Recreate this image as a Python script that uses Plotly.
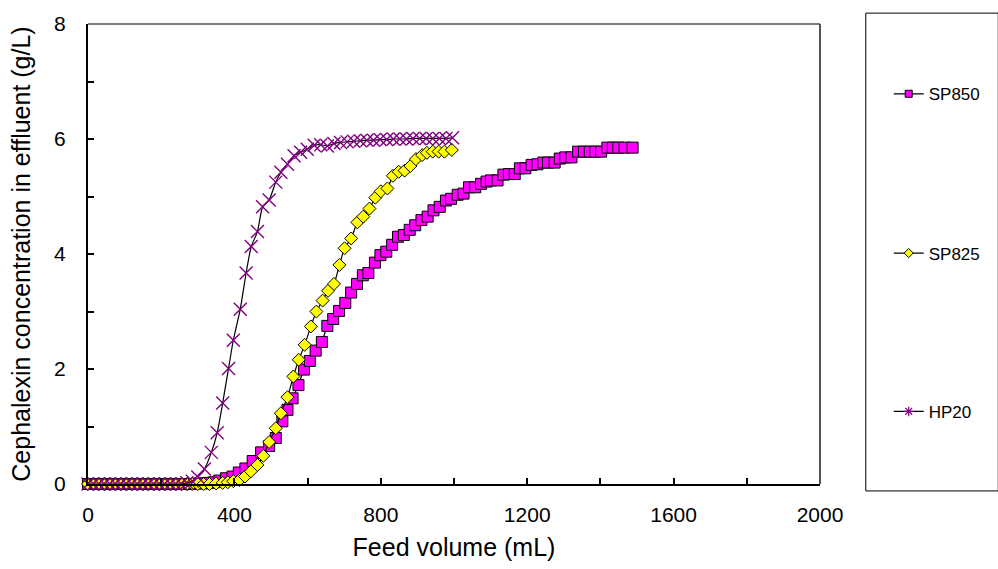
import plotly.graph_objects as go

# ---------------- data ----------------
sp850_x = [0, 15, 30, 45, 60, 75, 90, 105, 120, 135, 150, 165, 180, 195, 210, 225,
           240, 255, 270, 285, 300, 315, 330, 345, 359, 377, 395, 412, 430, 450, 473,
           495, 513, 531, 545, 559, 575, 590, 606, 622, 639, 654, 670, 686, 703, 719,
           735, 751, 766, 784, 799, 815, 831, 847, 863, 879, 894, 911, 928, 944, 961,
           978, 992, 1010, 1026, 1041, 1058, 1074, 1089, 1101, 1119, 1135, 1150, 1166,
           1180, 1195, 1212, 1228, 1244, 1257, 1275, 1289, 1304, 1321, 1339, 1355,
           1371, 1386, 1402, 1419, 1434, 1449, 1466, 1488]
sp850_y = [0, 0, 0, 0, 0, 0, 0, 0, 0, 0, 0, 0, 0, 0, 0, 0,
           0, 0, 0, 0, 0.01, 0.01, 0.02, 0.03, 0.06, 0.10, 0.13, 0.20, 0.27, 0.40, 0.55,
           0.66, 0.80, 1.09, 1.29, 1.49, 1.72, 1.99, 2.14, 2.32, 2.47, 2.75, 2.87, 3.01, 3.15, 3.33,
           3.48, 3.63, 3.67, 3.85, 3.98, 4.04, 4.16, 4.30, 4.33, 4.42, 4.50, 4.59, 4.65, 4.76, 4.82,
           4.93, 4.96, 5.03, 5.05, 5.16, 5.16, 5.22, 5.26, 5.28, 5.28, 5.38, 5.39, 5.39,
           5.49, 5.49, 5.55, 5.56, 5.59, 5.59, 5.59, 5.66, 5.68, 5.68, 5.78, 5.78,
           5.78, 5.78, 5.78, 5.85, 5.85, 5.85, 5.85, 5.85]

sp825_x = [0, 15, 30, 45, 60, 75, 90, 105, 120, 135, 150, 165, 180, 195, 210, 225,
           240, 255, 270, 285, 300, 316, 332, 350, 368, 382, 397, 414, 429, 445, 463,
           479, 495, 513, 527, 545, 561, 576, 592, 609, 624, 641, 656, 672, 687, 701,
           719, 736, 752, 769, 785, 800, 818, 833, 849, 865, 881, 896, 913, 926, 942,
           958, 974, 994]
sp825_y = [0, 0, 0, 0, 0, 0, 0, 0, 0, 0, 0, 0, 0, 0, 0, 0,
           0, 0, 0, 0, 0, 0, 0, 0.01, 0.02, 0.03, 0.05, 0.07, 0.13, 0.22, 0.33,
           0.49, 0.73, 0.97, 1.23, 1.51, 1.87, 2.16, 2.42, 2.74, 3.00, 3.19, 3.36, 3.48, 3.81, 4.10,
           4.27, 4.55, 4.65, 4.79, 4.98, 5.09, 5.14, 5.36, 5.43, 5.45, 5.53, 5.65, 5.72, 5.76, 5.78,
           5.78, 5.78, 5.81]

hp20_x = [0, 15, 30, 45, 60, 75, 90, 105, 120, 135, 150, 165, 180, 195, 210, 225,
          240, 255, 270, 285, 300, 318, 337, 353, 368, 384, 397, 416, 432, 446, 463,
          477, 495, 513, 527, 545, 563, 581, 599, 618, 636, 654, 672, 690, 708, 726,
          744, 762, 780, 798, 816, 834, 852, 870, 888, 906, 924, 942, 960, 978, 996]
hp20_y = [0, 0, 0, 0, 0, 0, 0, 0, 0, 0, 0, 0, 0, 0, 0, 0,
          0, 0, 0.02, 0.05, 0.12, 0.26, 0.55, 0.89, 1.41, 2.01, 2.50, 3.04, 3.67, 4.13, 4.39,
          4.82, 4.94, 5.25, 5.42, 5.56, 5.71, 5.77, 5.82, 5.89, 5.90, 5.88, 5.92, 5.94, 5.95, 5.96,
          5.97, 5.98, 5.98, 5.99, 5.99, 6.00, 6.00, 6.00, 6.01, 6.01, 6.01, 6.01, 6.01, 6.01, 6.02]

series_names = ["SP850", "SP825", "HP20"]
x_ticks = [0, 400, 800, 1200, 1600, 2000]
y_ticks = [0, 2, 4, 6, 8]

# ---------------- figure ----------------
FONT = "Liberation Sans, Arial, sans-serif"
fig = go.Figure()

styles = [
    dict(symbol="square", size=11, color="#FF00FF", line=dict(color="#000000", width=1)),
    dict(symbol="diamond", size=10, color="#FFFF00", line=dict(color="#000000", width=1)),
    dict(symbol="x-thin-open", size=13, color="#800080", line=dict(color="#800080", width=1.4)),
]
legend_styles = [
    dict(symbol="square", size=7, color="#FF00FF", line=dict(color="#000000", width=1)),
    dict(symbol="diamond", size=7, color="#FFFF00", line=dict(color="#000000", width=1)),
    dict(symbol="asterisk-open", size=8, color="#800080", line=dict(color="#800080", width=1.2)),
]
data = [(sp850_x, sp850_y), (sp825_x, sp825_y), (hp20_x, hp20_y)]
legend_ids = ["legend", "legend2", "legend3"]

for (xs, ys), name, st in zip(data, series_names, styles):
    fig.add_trace(go.Scatter(
        x=xs, y=ys, name=name, mode="lines+markers",
        line=dict(color="#000000", width=1.2, shape="spline", smoothing=0.6),
        marker=st, cliponaxis=False, showlegend=False,
    ))

for name, st, lid in zip(series_names, legend_styles, legend_ids):
    fig.add_trace(go.Scatter(
        x=[None], y=[None], name=name, mode="lines+markers",
        line=dict(color="#000000", width=1.2), marker=st,
        showlegend=True, legend=lid,
    ))

L, R, T, B = 88, 175, 20, 84
W, H = 998, 569
pw, ph = W - L - R, H - T - B

def px2paper_x(px):
    return (px - L) / pw

def py2paper_y(py):
    return (H - B - py) / ph

leg_common = dict(font=dict(family=FONT, size=17, color="#000000"),
                  bgcolor="rgba(0,0,0,0)", borderwidth=0,
                  xanchor="left", yanchor="middle", x=px2paper_x(892))

fig.update_layout(
    width=W, height=H,
    margin=dict(l=L, r=R, t=T, b=B, pad=0),
    paper_bgcolor="#FFFFFF", plot_bgcolor="#FFFFFF",
    font=dict(family=FONT, size=21, color="#000000"),
    legend=dict(**leg_common, y=py2paper_y(91)),
    legend2=dict(**leg_common, y=py2paper_y(252)),
    legend3=dict(**leg_common, y=py2paper_y(412)),
    xaxis=dict(
        range=[0, 2000], tickvals=x_ticks, ticktext=[str(v) for v in x_ticks],
        ticks="inside", ticklen=6, tickwidth=1.5, tickcolor="#000000",
        minor=dict(dtick=200, tick0=0, ticks="inside", ticklen=6, tickwidth=1.5, tickcolor="#000000"),
        showline=True, linecolor="#000000", linewidth=2, mirror=False,
        showgrid=False, zeroline=False,
        tickfont=dict(family=FONT, size=21), ticklabelstandoff=11,
        title=dict(text="Feed volume (mL)", font=dict(family=FONT, size=25), standoff=13),
    ),
    yaxis=dict(
        range=[0, 8], tickvals=y_ticks, ticktext=[str(v) for v in y_ticks],
        ticks="inside", ticklen=6, tickwidth=1.5, tickcolor="#000000",
        minor=dict(dtick=1, tick0=0, ticks="inside", ticklen=6, tickwidth=1.5, tickcolor="#000000"),
        showline=True, linecolor="#000000", linewidth=2, mirror=False,
        showgrid=False, zeroline=False,
        tickfont=dict(family=FONT, size=21), ticklabelstandoff=16,
        title=dict(text="Cephalexin concentration in effluent (g/L)", font=dict(family=FONT, size=25), standoff=16),
    ),
    shapes=[
        # top and right frame of the plot area (gray)
        dict(type="line", xref="paper", yref="paper", x0=0, x1=1, y0=1, y1=1,
             line=dict(color="#505050", width=1.5), layer="below"),
        dict(type="line", xref="paper", yref="paper", x0=1, x1=1, y0=0, y1=1,
             line=dict(color="#404040", width=1.8), layer="below"),
        # legend frame
        dict(type="rect", xref="paper", yref="paper",
             x0=px2paper_x(869), x1=px2paper_x(1002), y0=py2paper_y(492), y1=py2paper_y(9),
             line=dict(color="#000000", width=1), fillcolor="rgba(0,0,0,0)", layer="below"),
    ],
)

fig.write_html("out.html")
